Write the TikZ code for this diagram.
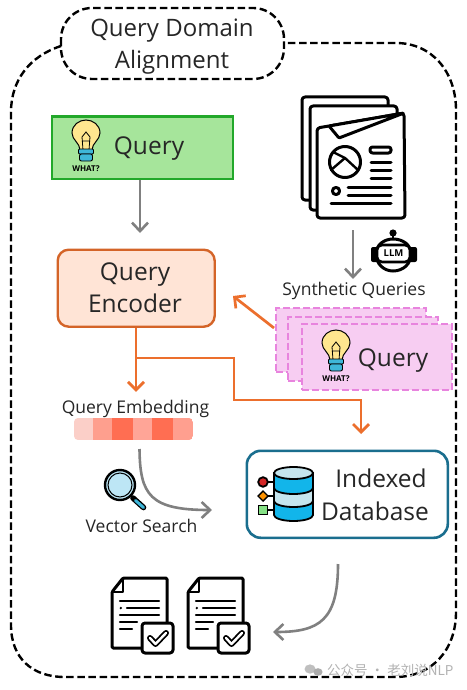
\documentclass[tikz,border=0pt]{standalone}
\usepackage{fontspec}
\setmainfont{Open Sans}
\newfontfamily\cjkfont{Noto Sans CJK SC}
\usetikzlibrary{arrows.meta,calc}
\definecolor{tdark}{HTML}{262626}
\definecolor{grayarrow}{HTML}{808080}
\definecolor{orangearrow}{HTML}{EC6F2D}
\definecolor{pinkfill}{HTML}{F7CDF2}
\definecolor{pinkedge}{HTML}{E884DE}
\definecolor{bulbyellow}{HTML}{FFE68F}
\definecolor{bulbblue}{HTML}{3EB6D9}
\definecolor{dbblue}{HTML}{12B5EA}
\definecolor{dblight}{HTML}{C5E5EE}
\definecolor{qfill}{HTML}{A6E59B}
\definecolor{qedge}{HTML}{22A82A}
\definecolor{encfill}{HTML}{FFE4D6}
\tikzset{
  frame/.style={draw=black,line width=2.4pt,dash pattern=on 7.5pt off 3.6pt,line cap=butt},
  label/.style={text=tdark,align=center,inner sep=0pt},
  biglabel/.style={label,font=\fontsize{24}{32}\selectfont},
  midlabel/.style={label,font=\fontsize{24.5}{32}\selectfont},
  smalllabel/.style={label,font=\fontsize{17.5}{20}\selectfont},
  grayline/.style={draw=grayarrow,line width=2.6pt,-{Straight Barb[length=8.5pt,width=16pt,line width=2.6pt]}},
  orangeline/.style={draw=orangearrow,line width=2.7pt},
  orangetip/.style={orangeline,-{Straight Barb[length=8pt,width=16pt,line width=2.7pt]}},
  pinkbox/.style={draw=pinkedge,fill=pinkfill,line width=2pt,dash pattern=on 7pt off 3pt},
  icon/.style={draw=black,line width=3pt,line join=round,line cap=round},
  bulb/.pic={
    \draw[fill=bulbyellow,line width=1pt] (-6,16) .. controls (-6,9) and (-14,6) .. (-14,-1) .. controls (-14,-9) and (-7,-14) .. (0,-14) .. controls (7,-14) and (14,-9) .. (14,-1) .. controls (14,6) and (6,9) .. (6,16) -- cycle;
    \draw[line width=.8pt] (-3,16) -- (-4,3) -- (0,-2) -- (4,3) -- (3,16) (-3.6,7) -- (3.6,7);
    \draw[fill=bulbblue,line width=.9pt,rounded corners=1pt] (-7.5,15) rectangle (7.5,20);
    \draw[fill=bulbblue,line width=.9pt,rounded corners=2pt] (-6.5,20) rectangle (6.5,27);
    \node[inner sep=0pt,text=black,font=\bfseries\fontsize{8}{9}\selectfont] (-what) at (0,34.5) {WHAT?};
  },
  doccheck/.pic={
    \draw[icon,fill=white,rounded corners=1.2pt] (11,0) -- (55,0) -- (55,70) -- (0,70) -- (0,14) -- cycle;
    \draw[icon,line width=2.2pt] (11,0) -- (11,14) -- (0,14);
    \draw[line width=2.2pt,line cap=round] (8,23) -- (47,23) (15,30) -- (47,30) (8,37) -- (47,37) (8,44) -- (25,44) (8,51) -- (20,51);
    \fill (8.8,30) circle (1.3);
    \draw[icon,fill=white,rounded corners=3pt] (30,45) rectangle (61,75);
    \draw[line width=6pt,line cap=round,line join=round] (38,60) -- (43.5,66) -- (54,55);
    \draw[white,line width=2.4pt,line cap=round,line join=round] (38,60) -- (43.5,66) -- (54,55);
  }
}
\begin{document}
\begin{tikzpicture}[x=1pt,y=-1pt]
\useasboundingbox (0,0) rectangle (466,690);
\fill[white] (0,0) rectangle (466,690);

% outer frame and title cloud
\draw[frame] (61,46) .. controls (30,56) and (11,80) .. (11,112) -- (11,625) .. controls (11,658) and (32,677) .. (65,677) -- (395,677) .. controls (432,677) and (456,650) .. (456,612) -- (456,110) .. controls (456,72) and (432,43) .. (396,43) -- (284,43);
\draw[frame,rounded corners=31pt] (61,8) rectangle (284,79);
\node[biglabel] (title) at (172,47) {Query Domain\\Alignment};

% query box
\node[draw=qedge,fill=qfill,line width=2.2pt,minimum width=181pt,minimum height=62pt,inner sep=0pt,anchor=north west] (qbox) at (51,115.5) {};
\node[midlabel] (qtext) at (149,149) {Query};
\pic (qbulb) at (86,134) {bulb};

% encoder
\node[draw=orangearrow!90!black,fill=encfill,line width=2.4pt,rounded corners=11pt,minimum width=157pt,minimum height=77pt,inner sep=0pt,anchor=north west] (enc) at (56.5,248.5) {};
\node[midlabel] (enctext) at (135,288) {Query\\Encoder};
\draw[grayline] (qbox.south -| 140,185) -- (140,233);

% document stack
\draw[icon,fill=white,rounded corners=3pt] (302,97) rectangle (388,200);
\draw[icon,fill=white,rounded corners=3pt] (310,106) rectangle (397,210);
\draw[icon,fill=white,rounded corners=3pt] (317,128) -- (329,126) -- (404,113) -- (405,218) -- (317,218) -- cycle;
\draw[icon,fill=white,rounded corners=1pt] (329,126) -- (404,113) -- (339,138) -- cycle;
\draw[icon] (345,162) circle (15.5);
\draw[icon,line width=2.4pt] (331,170) -- (345,158) -- (358,170) (333,152) -- (345,158);
\draw[icon,rounded corners=2.5pt] (370,147) rectangle (391,153);
\draw[icon] (371,162) -- (391,162) (371,170) -- (391,170) (371,178) -- (391,178) (348,187) -- (391,187) (348,195) -- (391,195) (331,203) -- (391,203);
\draw[icon] (336,191) circle (3.6);

% LLM robot
\fill (393,233) circle (3.6);
\draw[line width=2.2pt] (393,233) -- (393,240);
\draw[line width=3pt,fill=white] (376,254) .. controls (376,245) and (384,239) .. (393,239) .. controls (403,239) and (411,245) .. (411,254) .. controls (411,264) and (403,271) .. (393,271) .. controls (384,271) and (376,264) .. (376,254) -- cycle;
\fill[rounded corners=2pt] (371,247) rectangle (378,262) (409,247) rectangle (417,262);
\draw[line width=2.6pt,fill=white,rounded corners=5pt] (377,245) rectangle (410,262);
\node[inner sep=0pt,text=black,font=\bfseries\fontsize{9.5}{10}\selectfont] (llm) at (393.5,253.5) {LLM};

% synthetic queries
\node[smalllabel] (syn) at (354,291) {Synthetic Queries};
\draw[grayline] (353,230) -- (353,279);
\node[pinkbox,minimum width=150pt,minimum height=64pt,inner sep=0pt,anchor=north west] (p1) at (275,307) {};
\node[pinkbox,minimum width=150pt,minimum height=64pt,inner sep=0pt,anchor=north west] (p2) at (287,315.5) {};
\node[pinkbox,minimum width=150pt,minimum height=66pt,inner sep=0pt,anchor=north west] (p3) at (300.5,323) {};
\node[midlabel] (ptext) at (393,361) {Query};
\pic (pbulb) at (336,344) {bulb};

% arrows from encoder
\draw[orangetip] (274,328) -- (233,296);
\coordinate (split) at (136,358);
\coordinate (bendA) at (234,358);
\coordinate (bendB) at (234,400);
\coordinate (bendC) at (361,400);
\node[inner sep=0pt,minimum size=0pt] (embtip) at (136,392) {};
\draw[orangetip] (enc.south -| 136,336) -- (embtip);
\draw[orangetip] (split) -- (bendA) -- (bendB) -- (bendC) -- (361,434);

% embedding
\node[smalllabel] (emb) at (135.5,409) {Query Embedding};
\begin{scope}
  \clip[rounded corners=4pt] (74,418) rectangle (193,440);
  \fill[fill={rgb,255:red,251;green,207;blue,200}] (74,418) rectangle (93,440);
  \fill[fill={rgb,255:red,254;green,159;blue,142}] (93,418) rectangle (112,440);
  \fill[fill={rgb,255:red,255;green,110;blue,82}] (112,418) rectangle (133,440);
  \fill[fill={rgb,255:red,255;green,165;blue,151}] (133,418) rectangle (152,440);
  \fill[fill={rgb,255:red,255;green,110;blue,82}] (152,418) rectangle (173,440);
  \fill[fill={rgb,255:red,255;green,159;blue,143}] (173,418) rectangle (193,440);
\end{scope}

% vector search
\draw[fill={rgb,255:red,189;green,230;blue,245},line width=2.4pt] (120,485) circle (15);
\draw[line width=1pt] (120,485) circle (12);
\draw[line width=5.6pt,line cap=round] (133,498) -- (143.5,507.5);
\draw[bulbblue,line width=3pt,line cap=round] (135.5,500.5) -- (143.5,507.5);
\node[smalllabel] (vec) at (141.5,526) {Vector Search};
\draw[grayline] (139.5,449) .. controls (140,495) and (150,510) .. (212,510);

% database
\node[draw={rgb,255:red,26;green,110;blue,142},line width=2.6pt,rounded corners=14pt,minimum width=201pt,minimum height=87pt,inner sep=0pt,anchor=north west] (db) at (245.5,449.5) {};
\node[midlabel] (dbtext1) at (381,478) {Indexed};
\node[midlabel] (dbtext2) at (375,511) {Database};
\draw[line width=1.8pt] (273,482) -- (258,482) (273,496) -- (258,496) (273,510) -- (258,510);
\draw[line width=1.8pt,fill=dbblue] (274,473) -- (274,515) arc[start angle=180,end angle=0,x radius=19.5,y radius=6] -- (313,473) -- cycle;
\draw[line width=1.8pt,fill=dblight] (274,488) arc[start angle=180,end angle=0,x radius=19.5,y radius=6] -- (313,501) arc[start angle=0,end angle=180,x radius=19.5,y radius=6] -- cycle;
\draw[line width=1.8pt,fill=dblight] (293.5,473) ellipse (19.5 and 6);
\draw[line width=1.8pt,fill=red!80!black!85!white] (263,482) circle (4.8);
\draw[line width=1.4pt,fill=orange!85!yellow] (263,491) -- (268,496) -- (263,501) -- (258,496) -- cycle;
\draw[line width=1.4pt,fill=green!60!gray!60!white] (258.5,505.5) rectangle (267.5,514.5);

% result documents
\draw[grayline] (338,564) .. controls (338,620) and (320,632) .. (273,632);
\pic (d1) at (112,578) {doccheck};
\pic (d2) at (188,578) {doccheck};

% watermark
\fill[gray!50] (310,669) ellipse (5.5 and 4.6);
\fill[gray!65] (318,672) ellipse (4.6 and 3.8);
\node[inner sep=0pt,text=gray!60,anchor=west,font=\cjkfont\fontsize{13.5}{15}\selectfont] (mark) at (327,670) {公众号 · 老刘说NLP};
\end{tikzpicture}
\end{document}
